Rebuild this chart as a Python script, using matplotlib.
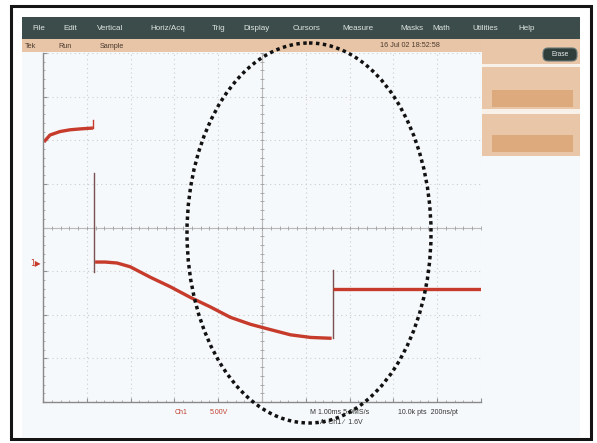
import numpy as np
import matplotlib
matplotlib.use("Agg")
import matplotlib.pyplot as plt
from matplotlib.patches import Rectangle, Ellipse, FancyBboxPatch

# ---------------- data (time in ms, 1 ms/div; voltage in V, 5 V/div) ----------------
seg1_t = [0.02, 0.16, 0.39, 0.62, 0.85, 1.14]
seg1_v = [9.8, 10.6, 11.0, 11.2, 11.3, 11.4]
spike_t = [1.14, 1.14]
spike_v = [11.4, 12.3]
drop_t = [1.17, 1.17]
drop_v = [6.25, -5.1]
seg2_t = [1.19, 1.42, 1.69, 1.99, 2.45, 2.91, 3.36, 3.82, 4.28, 4.74, 5.19, 5.65, 6.11, 6.59]
seg2_v = [-3.96, -3.96, -4.07, -4.5, -5.7, -6.8, -8.0, -9.1, -10.3, -11.1, -11.7, -12.3, -12.6, -12.7]
step_t = [6.61, 6.61]
step_v = [-12.7, -4.9]
seg3_t = [6.61, 7.5, 8.5, 9.5, 10.0]
seg3_v = [-7.05, -7.05, -7.05, -7.05, -7.05]
ground_level = -4.07

menu_items = ["File", "Edit", "Vertical", "Horiz/Acq", "Trig", "Display", "Cursors",
              "Measure", "Masks", "Math", "Utilities", "Help"]
menu_x = [32, 63, 97, 150, 212, 243, 293, 342, 400, 432, 472, 518]

W, H = 597, 443
fig = plt.figure(figsize=(W / 100, H / 100), dpi=100)
fig.patch.set_facecolor("white")

# ---------------- background overlay (pixel coordinates) ----------------
bg = fig.add_axes([0, 0, 1, 1], zorder=0)
bg.set_xlim(0, W)
bg.set_ylim(H, 0)
bg.axis("off")

bg.add_patch(Rectangle((22, 17), 558, 420, facecolor="#f6f9fb", edgecolor="none"))
bg.add_patch(Rectangle((11, 6), 580, 433, facecolor="none", edgecolor="#151515", lw=2.2))
# menu bar
bg.add_patch(Rectangle((22, 17), 558, 22, facecolor="#3b4c4a", edgecolor="none"))
for name, x in zip(menu_items, menu_x):
    bg.text(x, 28, name, color="#dfe6e2", fontsize=5.8, va="center", ha="left",
            family="Liberation Sans")
# status bar
bg.add_patch(Rectangle((22, 39), 558, 13, facecolor="#e8c5a6", edgecolor="none"))
bg.text(25, 46, "Tek", fontsize=5.2, color="#4a3a30", va="center", family="Liberation Sans")
bg.text(58, 46, "Run", fontsize=5.2, color="#4a3a30", va="center", family="Liberation Sans")
bg.text(100, 46, "Sample", fontsize=5.2, color="#4a3a30", va="center", family="Liberation Sans")
bg.text(380, 45, "16 Jul 02 18:52:58", fontsize=5.2, color="#4a3a30", va="center",
        family="Liberation Sans")
# right panel
bg.add_patch(Rectangle((482, 39), 98, 117, facecolor="#e9c6a8", edgecolor="none"))
bg.add_patch(Rectangle((482, 64), 98, 3, facecolor="#f8f1ea", edgecolor="none"))
bg.add_patch(Rectangle((492, 90), 81, 17, facecolor="#ddaa7e", edgecolor="none"))
bg.add_patch(Rectangle((482, 109), 98, 5, facecolor="#f8f1ea", edgecolor="none"))
bg.add_patch(Rectangle((492, 135), 81, 17, facecolor="#ddaa7e", edgecolor="none"))
bg.add_patch(FancyBboxPatch((543, 48), 34, 13, boxstyle="round,pad=0,rounding_size=5",
                            facecolor="#2f3d3b", edgecolor="#6a7a78", lw=0.8))
bg.text(560, 54.5, "Erase", fontsize=4.8, color="#e8eeee", ha="center", va="center",
        family="Liberation Sans")
# readouts below graticule
bg.text(175, 413, "Ch1", fontsize=5, color="#c04030", va="center", family="Liberation Sans")
bg.text(210, 413, "5.00V", fontsize=5, color="#c04030", va="center", family="Liberation Sans")
bg.text(310, 413, "M 1.00ms 5.0MS/s", fontsize=5, color="#333333", va="center",
        family="Liberation Sans")
bg.text(320, 423, "A  Ch1 \u2215  1.6V", fontsize=5, color="#333333", va="center",
        family="Liberation Sans")
bg.text(398, 413, "10.0k pts  200ns/pt", fontsize=5, color="#333333", va="center",
        family="Liberation Sans")

# ---------------- graticule / trace axes ----------------
left, right, top, bottom = 43, 481, 53, 402
ax = fig.add_axes([left / W, (H - bottom) / H, (right - left) / W, (bottom - top) / H], zorder=1)
ax.patch.set_alpha(0)
ax.set_xlim(0, 10)
ax.set_ylim(-20, 20)
ax.set_xticks(np.arange(0, 10.01, 1))
ax.set_yticks(np.arange(-20, 20.01, 5))
ax.set_xticklabels([])
ax.set_yticklabels([])
ax.tick_params(direction="in", length=3, color="#909090", width=0.8)
ax.set_xticks(np.arange(0, 10.01, 0.2), minor=True)
ax.set_yticks(np.arange(-20, 20.01, 1), minor=True)
ax.tick_params(which="minor", direction="in", length=1.5, color="#a0a0a0", width=0.6)
ax.grid(True, which="major", color="#cccccc", linestyle=(0, (1, 3)), lw=0.8)
for s in ["top", "right"]:
    ax.spines[s].set_visible(False)
for s in ["left", "bottom"]:
    ax.spines[s].set_color("#8a8a8a")
    ax.spines[s].set_linewidth(1.0)
ax.axhline(0, color="#bababa", lw=0.8)
ax.axvline(5, color="#bababa", lw=0.8)
mx = np.arange(0, 10.01, 0.2)
ax.plot(mx, np.zeros_like(mx), ls="none", marker="|", ms=3, color="#a0a0a0", mew=0.6)
my = np.arange(-20, 20.01, 1)
ax.plot(np.full_like(my, 5), my, ls="none", marker="_", ms=3, color="#a0a0a0", mew=0.6)

red = "#c63b2b"
ax.plot(seg1_t, seg1_v, color=red, lw=2.4, solid_capstyle="butt")
ax.plot(spike_t, spike_v, color=red, lw=1.0)
ax.plot(drop_t, drop_v, color="#7a5050", lw=1.0)
ax.plot(seg2_t, seg2_v, color=red, lw=2.4, solid_capstyle="butt")
ax.plot(step_t, step_v, color="#7a5050", lw=1.0)
ax.plot(seg3_t, seg3_v, color=red, lw=2.4, solid_capstyle="butt")
ax.text(-0.05, ground_level, "1\u25b6", color=red, fontsize=5.5, ha="right", va="center",
        family="DejaVu Sans", clip_on=False)

# ---------------- dotted ellipse overlay ----------------
ov = fig.add_axes([0, 0, 1, 1], zorder=2)
ov.patch.set_alpha(0)
ov.set_xlim(0, W)
ov.set_ylim(H, 0)
ov.axis("off")
ov.add_patch(Ellipse((309, 233), 244, 380, facecolor="none", edgecolor="#111111",
                     lw=2.5, linestyle=(0, (1, 1))))

fig.savefig("out.png", dpi=100)
